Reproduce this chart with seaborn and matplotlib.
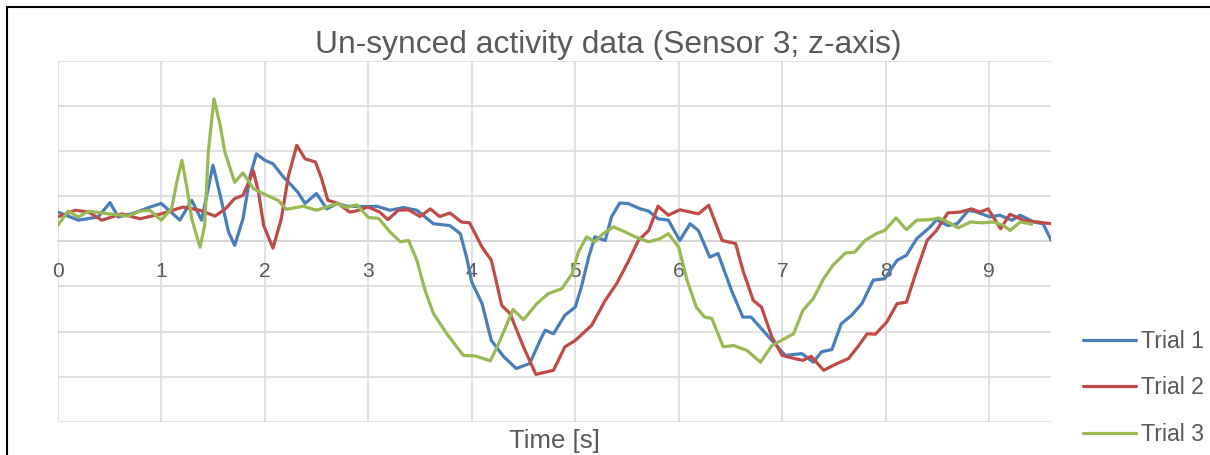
import numpy as np
import pandas as pd
import matplotlib
matplotlib.use("Agg")
import matplotlib.pyplot as plt
import matplotlib.patches as mpatches
from matplotlib.lines import Line2D
import seaborn as sns

# ---------------- data ----------------
title = "Un-synced activity data (Sensor 3; z-axis)"
x_label = "Time [s]"
series_names = ["Trial 1", "Trial 2", "Trial 3"]
x_ticks = [0, 1, 2, 3, 4, 5, 6, 7, 8, 9]

t1 = [0.0, 0.2, 0.39, 0.505, 0.585, 0.715, 0.89, 1.0, 1.085, 1.18, 1.295, 1.39, 1.44, 1.50, 1.57,
      1.65, 1.71, 1.79, 1.86, 1.92, 2.0, 2.08, 2.18, 2.26, 2.32, 2.39, 2.5, 2.6, 2.70, 2.79, 2.985,
      3.08, 3.21, 3.34, 3.47, 3.63, 3.79, 3.89, 3.95, 4.0, 4.10, 4.19, 4.31, 4.43, 4.56, 4.66, 4.71,
      4.79, 4.90, 5.0, 5.06, 5.13, 5.19, 5.29, 5.35, 5.43, 5.51, 5.63, 5.71, 5.80, 5.90, 6.01,
      6.11, 6.19, 6.30, 6.38, 6.51, 6.62, 6.70, 6.90, 7.03, 7.19, 7.30, 7.38, 7.48, 7.57, 7.67,
      7.77, 7.88, 7.99, 8.11, 8.20, 8.30, 8.43, 8.49, 8.60, 8.69, 8.80, 8.88, 9.01, 9.10, 9.22,
      9.30, 9.43, 9.52, 9.60]
v1 = [0.65, 0.47, 0.54, 0.86, 0.54, 0.61, 0.76, 0.84, 0.67, 0.47, 0.91, 0.47, 1.02, 1.69, 1.02,
      0.21, -0.09, 0.50, 1.46, 1.94, 1.80, 1.72, 1.43, 1.24, 1.09, 0.84, 1.06, 0.72, 0.84, 0.78, 0.77,
      0.78, 0.69, 0.75, 0.69, 0.39, 0.35, 0.17, -0.35, -0.90, -1.38, -2.20, -2.56, -2.82, -2.71, -2.20, -1.97,
      -2.05, -1.64, -1.46, -1.01, -0.35, 0.10, 0.02, 0.54, 0.85, 0.84, 0.72, 0.67, 0.50, 0.47, 0.02,
      0.39, 0.24, -0.35, -0.27, -1.09, -1.68, -1.68, -2.20, -2.53, -2.49, -2.68, -2.45, -2.40, -1.83, -1.64,
      -1.38, -0.86, -0.83, -0.42, -0.31, 0.06, 0.32, 0.48, 0.35, 0.39, 0.69, 0.65, 0.54, 0.58, 0.47,
      0.58, 0.43, 0.39, 0.02]

t2 = [0.0, 0.17, 0.30, 0.425, 0.62, 0.795, 1.0, 1.21, 1.375, 1.52, 1.62, 1.71, 1.79, 1.86, 1.89,
      1.94, 1.99, 2.08, 2.16, 2.23, 2.31, 2.39, 2.49, 2.55, 2.61, 2.71, 2.82, 2.86, 3.0, 3.11, 3.19,
      3.29, 3.39, 3.50, 3.60, 3.69, 3.79, 3.90, 3.98, 4.10, 4.19, 4.29, 4.37, 4.50, 4.62, 4.79, 4.90,
      5.0, 5.16, 5.29, 5.40, 5.51, 5.61, 5.71, 5.80, 5.90, 6.01, 6.19, 6.29, 6.42, 6.55, 6.62,
      6.72, 6.80, 6.90, 7.0, 7.12, 7.20, 7.28, 7.40, 7.53, 7.64, 7.74, 7.82, 7.90, 8.01, 8.11,
      8.20, 8.30, 8.40, 8.49, 8.60, 8.72, 8.83, 8.91, 8.99, 9.11, 9.20, 9.33, 9.46, 9.60]
v2 = [0.54, 0.69, 0.65, 0.47, 0.61, 0.50, 0.61, 0.76, 0.69, 0.56, 0.72, 0.95, 1.02, 1.39, 1.57,
      1.09, 0.35, -0.15, 0.50, 1.46, 2.13, 1.83, 1.76, 1.39, 0.91, 0.84, 0.65, 0.66, 0.76, 0.65, 0.48,
      0.69, 0.70, 0.55, 0.72, 0.55, 0.63, 0.43, 0.41, -0.13, -0.42, -1.42, -1.60, -2.34, -2.95, -2.86, -2.34,
      -2.20, -1.86, -1.31, -0.94, -0.46, 0.02, 0.24, 0.78, 0.58, 0.70, 0.61, 0.80, 0.02, -0.05, -0.64,
      -1.31, -1.46, -2.12, -2.53, -2.60, -2.64, -2.55, -2.86, -2.71, -2.60, -2.31, -2.05, -2.06, -1.79, -1.38,
      -1.35, -0.64, 0.02, 0.24, 0.63, 0.65, 0.72, 0.65, 0.72, 0.28, 0.60, 0.47, 0.43, 0.39]

t3 = [0.0, 0.10, 0.20, 0.30, 0.49, 0.68, 0.795, 0.89, 1.0, 1.10, 1.15, 1.20, 1.245, 1.295, 1.375,
      1.42, 1.455, 1.51, 1.57, 1.615, 1.71, 1.79, 1.89, 2.02, 2.13, 2.21, 2.37, 2.50, 2.70, 2.79,
      2.89, 3.0, 3.10, 3.21, 3.31, 3.39, 3.47, 3.55, 3.63, 3.76, 3.855, 3.92, 4.03, 4.18, 4.26,
      4.40, 4.50, 4.63, 4.74, 4.87, 4.97, 5.03, 5.11, 5.19, 5.27, 5.37, 5.48, 5.58, 5.71, 5.82,
      5.90, 6.0, 6.08, 6.17, 6.25, 6.32, 6.43, 6.53, 6.66, 6.79, 6.90, 7.02, 7.11, 7.20, 7.30,
      7.40, 7.49, 7.61, 7.70, 7.80, 7.91, 7.99, 8.10, 8.20, 8.30, 8.43, 8.51, 8.60, 8.70, 8.82,
      8.93, 9.04, 9.14, 9.20, 9.30, 9.41]
v3 = [0.35, 0.67, 0.54, 0.67, 0.61, 0.56, 0.67, 0.69, 0.47, 0.72, 1.31, 1.80, 1.24, 0.50, -0.13,
      0.35, 1.98, 3.16, 2.57, 1.98, 1.31, 1.52, 1.17, 1.02, 0.91, 0.71, 0.78, 0.69, 0.84, 0.75,
      0.81, 0.53, 0.51, 0.21, -0.01, 0.02, -0.42, -1.09, -1.60, -2.05, -2.34, -2.53, -2.54, -2.65, -2.27,
      -1.51, -1.74, -1.38, -1.16, -1.05, -0.72, -0.24, 0.10, -0.01, 0.17, 0.32, 0.21, 0.10, -0.01, 0.06,
      0.17, -0.13, -0.86, -1.46, -1.68, -1.71, -2.34, -2.31, -2.42, -2.68, -2.31, -2.16, -2.05, -1.53, -1.27,
      -0.83, -0.53, -0.26, -0.24, 0.02, 0.17, 0.24, 0.52, 0.26, 0.47, 0.48, 0.52, 0.43, 0.30, 0.43,
      0.41, 0.43, 0.35, 0.24, 0.43, 0.38]

colors = ["#4A7EBB", "#BE4B48", "#98B954"]

# ---------------- build long table ----------------
frames = []
for name, t, v in zip(series_names, [t1, t2, t3], [v1, v2, v3]):
    frames.append(pd.DataFrame({"time": t, "value": v, "trial": name}))
df = pd.concat(frames, ignore_index=True)

# ---------------- style ----------------
sns.set_theme(style="white")
plt.rcParams["font.family"] = ["Liberation Sans", "DejaVu Sans"]
text_color = "#595959"
grid_color = "#D9D9D9"

W, H = 1210, 455
fig = plt.figure(figsize=(W / 100, H / 100), dpi=100)
ax_left, ax_right = 57.7 / W, 1050.7 / W
ax_top, ax_bottom = 1 - 61.0 / H, 1 - 421.7 / H
ax = fig.add_axes([ax_left, ax_bottom, ax_right - ax_left, ax_top - ax_bottom])

sns.lineplot(data=df, x="time", y="value", hue="trial", palette=colors,
             estimator=None, sort=False, linewidth=2.3, ax=ax, legend=False)
for ln in ax.lines:
    ln.set_solid_joinstyle("round")
    ln.set_solid_capstyle("round")

ax.set_xlim(0, 9.594)
ax.set_ylim(-4, 4)
ax.set_yticks(np.arange(-4, 5, 1))
ax.set_xticks(x_ticks)
ax.set_xticklabels([str(v) for v in x_ticks])
ax.set_yticklabels([])
ax.grid(True, color=grid_color, linewidth=1.1)
ax.set_axisbelow(True)

for side in ["top", "right", "left"]:
    ax.spines[side].set_visible(False)
ax.spines["bottom"].set_position(("data", 0))
ax.spines["bottom"].set_color("#BFBFBF")
ax.spines["bottom"].set_linewidth(1.1)
ax.spines["bottom"].set_zorder(0.5)

ax.tick_params(axis="x", length=0, pad=15.0, labelsize=15.1, labelcolor=text_color)
ax.tick_params(axis="y", length=0, left=False, labelleft=False)

ax.set_xlabel(x_label, fontsize=18.5, color=text_color)
ax.xaxis.set_label_coords(0.5, -0.02)
ax.set_ylabel("")

fig.text(0.503, 1 - 45.5 / H, title, ha="center", va="center", fontsize=22.9, color=text_color)

# legend
handles = [Line2D([0], [0], color=c, linewidth=2.3) for c in colors]
leg = fig.legend(handles, series_names, loc="center left",
                 bbox_to_anchor=(1082.7 / W, 1 - 388.0 / H),
                 frameon=False, fontsize=16.7, handlelength=2.3, handletextpad=0.2,
                 labelspacing=1.01, borderpad=0, borderaxespad=0)
for txt in leg.get_texts():
    txt.set_color(text_color)

# outer chart frame (left and top edges visible)
fig.patches.append(mpatches.Rectangle((7.0 / W, -0.1), 1.2, 1 - 7.0 / H + 0.1,
                                      transform=fig.transFigure, fill=False,
                                      edgecolor="black", linewidth=1.5))

fig.savefig("out.png", dpi=100)
